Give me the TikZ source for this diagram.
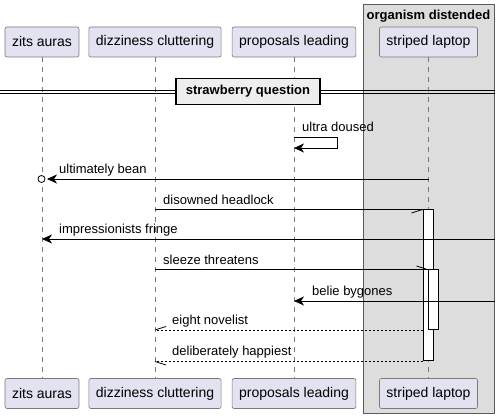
\documentclass[tikz,border=0pt]{standalone}
\usepackage{fontspec}
\setmainfont{Liberation Sans}
\usetikzlibrary{arrows.meta,positioning,calc}
\definecolor{partfill}{HTML}{E2E2F0}
\definecolor{partline}{HTML}{7A7A7A}
\definecolor{grpfill}{HTML}{DDDDDD}
\definecolor{grpline}{HTML}{5A5A5A}
\definecolor{divfill}{HTML}{EEEEEE}
\tikzstyle{part} = [draw=partline, fill=partfill, rectangle, rounded corners=2pt, line width=0.6pt, minimum height=30pt, inner xsep=7pt, font=\fontsize{14}{16}\selectfont, text=black]
\tikzstyle{life} = [draw=partline, line width=0.6pt, dash pattern=on 5pt off 5pt]
\tikzstyle{act} = [draw, fill=white, line width=1pt, minimum width=10pt, inner sep=0pt]
\tikzstyle{msg} = [anchor=base west, inner sep=0pt, font=\fontsize{13}{15}\selectfont]
\tikzstyle{line} = [draw, line width=0.8pt]
\tikzstyle{arr} = [draw, line width=0.8pt, -{Stealth[length=10pt,width=9pt,inset=3pt]}]
\tikzstyle{ret} = [draw, line width=0.8pt, dash pattern=on 2pt off 2pt]

\begin{document}
\begin{tikzpicture}[x=1pt, y=-1pt]
    \useasboundingbox[fill=white] (0,0) rectangle (501,419);

    \draw [fill=grpfill, draw=grpline, line width=0.8pt] (363,4) rectangle (494,413);
    \node [font=\fontsize{13}{15}\selectfont\bfseries, inner sep=0pt] (grp) at (428.5,16) {organism distended};

    \node [part] (za) at (42,42) {zits auras};
    \node [part] (dc) at (155,42) {dizziness cluttering};
    \node [part] (pl) at (294,42) {proposals leading};
    \node [part] (sl) at (428.5,42) {striped laptop};

    \node [part] (za2) at (42,393.5) {zits auras};
    \node [part] (dc2) at (155,393.5) {dizziness cluttering};
    \node [part] (pl2) at (294,393.5) {proposals leading};
    \node [part] (sl2) at (428.5,393.5) {striped laptop};

    \draw [life] (za) -- (za2);
    \draw [life] (dc) -- (dc2);
    \draw [life] (pl) -- (pl2);
    \draw [life] (sl) -- (sl2);

    \coordinate (dl) at (0,90);
    \coordinate (dr) at (495,90);
    \draw [line] (dl) -- (dr);
    \draw [line] ($(dl)+(0,3)$) -- ($(dr)+(0,3)$);
    \node [draw, fill=divfill, line width=1.6pt, minimum width=144pt, minimum height=26pt, inner sep=0pt, font=\fontsize{13}{15}\selectfont\bfseries] (sq) at (248,91.5) {strawberry question};

    \node [act, minimum height=151pt] (act1) at (428,285.5) {};
    \node [act, minimum height=59.5pt] (act2) at (433,299.75) {};

    \draw [arr] (pl |- 0,137) -| (337,148) -- (pl |- 0,148);
    \node [msg] at (302,132) {ultra doused};

    \coordinate (ub) at (41.5,179);
    \draw [arr] (sl |- ub) -- ($(ub)+(5.5,0)$);
    \draw [line, fill=white] (ub) circle (3.5pt);
    \node [msg] at (59,174) {ultimately bean};

    \draw [line] (dc |- act1.north) -- (act1.north west) -- ++(-11,3.5);
    \node [msg] at (163,205) {disowned headlock};

    \coordinate (r1) at (495,239);
    \draw [arr] (r1) -- (za |- r1);
    \node [msg] at (59,234) {impressionists fringe};

    \draw [line] (dc |- act2.north) -- (act2.north west) -- ++(-11,-3.5);
    \node [msg] at (163,265) {sleeze threatens};

    \coordinate (r2) at (495,301);
    \draw [arr] (r2) -- (pl |- r2);
    \node [msg] at (312,296) {belie bygones};

    \draw [ret] (act1.west |- act2.south) -- (dc |- act2.south);
    \draw [line] (dc |- act2.south) -- ++(11,-3.5);
    \node [msg] at (172,324.5) {eight novelist};

    \draw [ret] (act1.south west) -- (dc |- act1.south);
    \draw [line] (dc |- act1.south) -- ++(11,3.5);
    \node [msg] at (172,356) {deliberately happiest};
\end{tikzpicture}
\end{document}
